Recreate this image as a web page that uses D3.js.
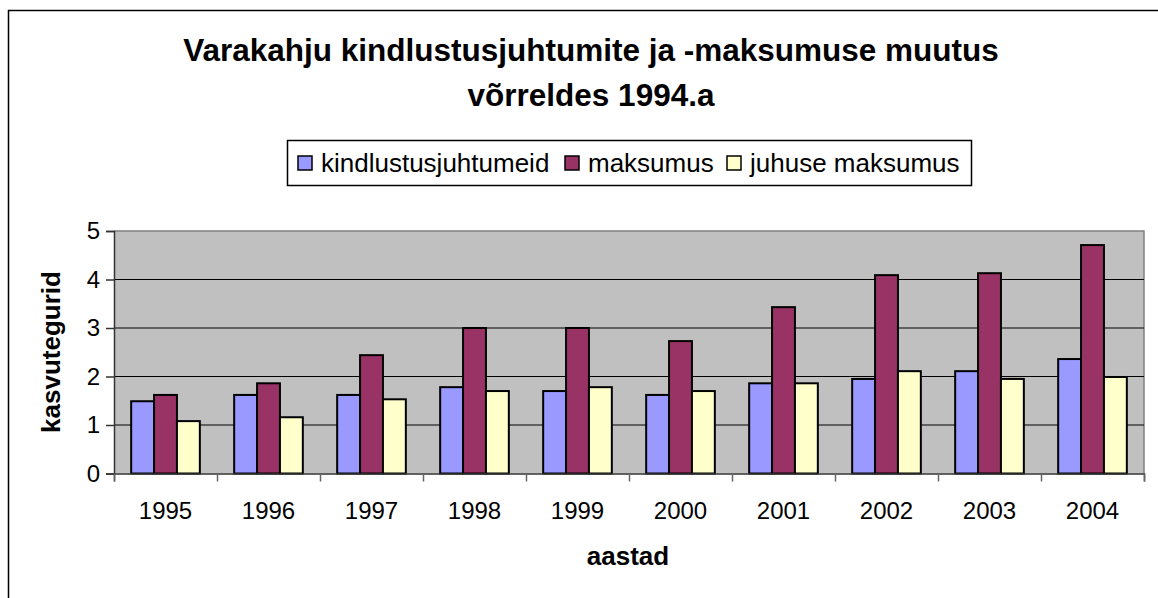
<!DOCTYPE html>
<html><head><meta charset="utf-8">
<script src="https://cdn.jsdelivr.net/npm/d3@7"></script>
<style>body{margin:0;background:#fff}svg{display:block}text{font-family:"Liberation Sans",Arial,sans-serif}</style>
</head><body><svg id="c" width="1158" height="598"></svg>
<script>
const years = ["1995","1996","1997","1998","1999","2000","2001","2002","2003","2004"];
const seriesNames = ["kindlustusjuhtumeid","maksumus","juhuse maksumus"];
const kindlustusjuhtumeid = [1.49,1.62,1.62,1.78,1.70,1.62,1.86,1.95,2.11,2.36];
const maksumus = [1.62,1.86,2.44,3.00,3.00,2.73,3.43,4.09,4.13,4.71];
const juhuseMaksumus = [1.08,1.16,1.53,1.70,1.78,1.70,1.86,2.11,1.95,1.99];
const yTicks = [0,1,2,3,4,5];
const colors = ["#9999ff","#993366","#ffffcc"];

const svg = d3.select("#c");
svg.append("rect").attr("x",8.5).attr("y",10.5).attr("width",1200).attr("height",700)
  .attr("fill","#fff").attr("stroke","#000").attr("stroke-width",1.5);

const L=114,R=1144,T=231,B=473.5;
const x = d3.scaleBand().domain(years).range([L,R]);
const bw = x.bandwidth()/4.5;
const y = d3.scaleLinear().domain([0,5]).range([B,T]);

svg.append("rect").attr("x",L).attr("y",T).attr("width",R-L).attr("height",B-T).attr("fill","#c0c0c0");
svg.append("path").attr("d",`M${L},${T}H${R}V${B}`).attr("fill","none").attr("stroke","#808080").attr("stroke-width",1.5);

svg.append("g").selectAll("line").data(yTicks.filter(d=>d>0&&d<5)).join("line")
  .attr("x1",L).attr("x2",R).attr("y1",d=>y(d)).attr("y2",d=>y(d)).attr("stroke","#000").attr("stroke-width",1);

const data = [kindlustusjuhtumeid,maksumus,juhuseMaksumus];
data.forEach((arr,si)=>{
  svg.append("g").selectAll("rect").data(arr).join("rect")
    .attr("x",(d,i)=>x(years[i])+bw*0.75+si*bw)
    .attr("y",d=>y(d)).attr("width",bw).attr("height",d=>B-y(d))
    .attr("fill",colors[si]).attr("stroke","#000").attr("stroke-width",2);
});

const ya = svg.append("g").attr("transform",`translate(${L},0)`)
  .call(d3.axisLeft(y).tickValues(yTicks).tickSize(8).tickPadding(6).tickFormat(d3.format("d")));
ya.select(".domain").attr("stroke","#333").attr("stroke-width",1.5);
ya.selectAll(".tick line").attr("stroke","#333").attr("stroke-width",1.5);
ya.selectAll("text").attr("font-size",24).attr("fill","#000").attr("font-family","Liberation Sans, Arial, sans-serif");

const xb = d3.scaleLinear().domain([0,years.length]).range([L,R]);
const xa = svg.append("g").attr("transform",`translate(0,${B})`)
  .call(d3.axisBottom(xb).tickValues(d3.range(0,years.length+1)).tickSize(8).tickFormat(""));
xa.select(".domain").attr("stroke","#333").attr("stroke-width",1.5);
xa.selectAll(".tick line").attr("stroke","#666").attr("stroke-width",1.5);
svg.append("g").selectAll("text").data(years).join("text")
  .attr("x",d=>x(d)+x.bandwidth()/2).attr("y",519).attr("text-anchor","middle")
  .attr("font-size",24).text(d=>d);

svg.append("text").attr("x",591).attr("y",61).attr("text-anchor","middle").attr("font-weight","bold").attr("font-size",31.5)
  .text("Varakahju kindlustusjuhtumite ja -maksumuse muutus");
svg.append("text").attr("x",591).attr("y",106).attr("text-anchor","middle").attr("font-weight","bold").attr("font-size",31.5)
  .text("võrreldes 1994.a");

svg.append("text").attr("transform","translate(60,352) rotate(-90)").attr("text-anchor","middle")
  .attr("font-weight","bold").attr("font-size",26).text("kasvutegurid");
svg.append("text").attr("x",628).attr("y",565).attr("text-anchor","middle")
  .attr("font-weight","bold").attr("font-size",26).text("aastad");

// legend
const lg = svg.append("g");
lg.append("rect").attr("x",287.5).attr("y",140.5).attr("width",684).attr("height",45).attr("fill","#fff").attr("stroke","#000").attr("stroke-width",1.5);
const lx = [298,565,727];
seriesNames.forEach((n,i)=>{
  lg.append("rect").attr("x",lx[i]).attr("y",156).attr("width",14).attr("height",14).attr("fill",colors[i]).attr("stroke","#000").attr("stroke-width",1.5);
  lg.append("text").attr("x",lx[i]+23).attr("y",172).attr("font-size",26).text(n);
});
</script></body></html>
